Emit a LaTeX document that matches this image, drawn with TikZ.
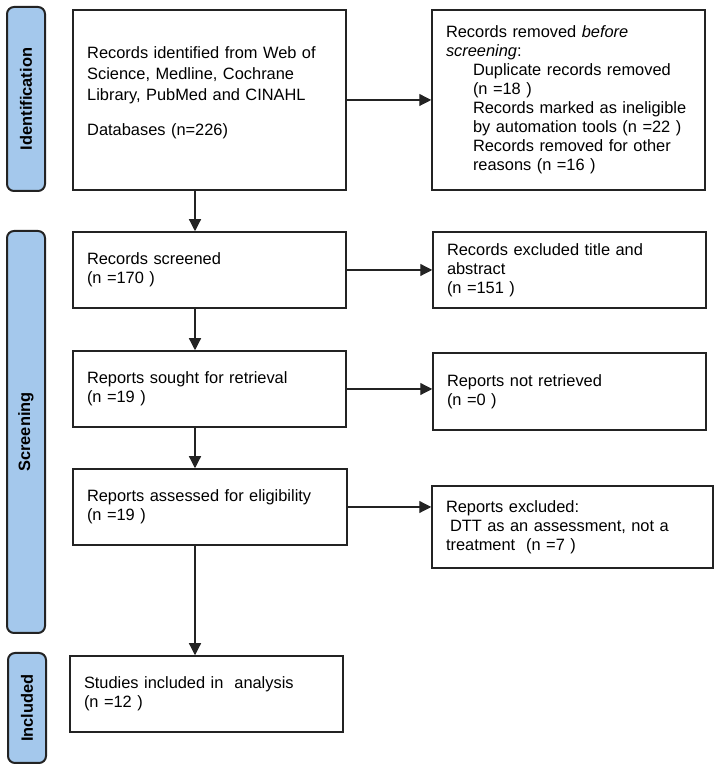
\documentclass[tikz,border=0pt]{standalone}
\usepackage{fontspec}
\setmainfont{Liberation Sans}
\usetikzlibrary{arrows.meta}
\definecolor{bandblue}{RGB}{164,200,236}
\definecolor{edge}{RGB}{35,35,35}
\begin{document}
\begin{tikzpicture}[x=1pt,y=1pt,
  txt/.style={font=\fontsize{16.4}{19}\selectfont},
  box/.style={draw=edge, line width=1.5pt, align=left, inner xsep=14pt, inner ysep=0pt, txt},
  band/.style={draw=edge, line width=2pt, fill=bandblue, rounded corners=7pt, rotate=90,
    minimum height=38pt, inner sep=0pt, font=\fontsize{16.4}{19}\selectfont\bfseries},
  arr/.style={draw=edge, line width=1.2pt, -{Triangle[length=12pt,width=12pt]}}]
\useasboundingbox (0,0) rectangle (714,770);
% phase bands
\node[band, minimum width=184pt] (idb) at (26,671) {Identification};
\node[band, minimum width=402pt] (scb) at (26,338) {Screening};
\node[band, minimum width=110pt] (inb) at (27,62) {Included};
% left column
\node[box, minimum width=273pt, minimum height=180pt] (b1) at (209.5,670) {};
\node[txt, anchor=north west, inner sep=0pt, text width=245pt, align=left,
  font=\fontsize{16.4}{21}\selectfont] (t1) at (87,724)
  {Records identified from Web of\\Science, Medline, Cochrane\\Library, PubMed and CINAHL\\[14pt]Databases (n=226)};
\node[box, text width=245pt, minimum height=76pt] (b2) at (209.5,500) {Records screened\\(n =170 )};
\node[box, text width=245pt, minimum height=76pt] (b3) at (209.5,381) {Reports sought for retrieval\\(n =19 )};
\node[box, text width=246pt, minimum height=76pt] (b4) at (210,263) {Reports assessed for eligibility\\(n =19 )};
\node[box, text width=245pt, minimum height=76pt] (b5) at (206.5,76) {Studies included in\ \ analysis\\(n =12 )};
% right column
\node[box, text width=245pt, minimum height=180pt] (r1) at (568.5,670)
  {Records removed \textit{before}\\\textit{screening}:\\
   \hspace*{27pt}Duplicate records removed\\\hspace*{27pt}(n =18 )\\
   \hspace*{27pt}Records marked as ineligible\\\hspace*{27pt}by automation tools (n =22 )\\
   \hspace*{27pt}Records removed for other\\\hspace*{27pt}reasons (n =16 )};
\node[box, text width=245pt, minimum height=76pt] (r2) at (569.5,500) {Records excluded title and\\abstract\\(n =151 )};
\node[box, text width=245pt, minimum height=77pt] (r3) at (569.5,378.5) {Reports not retrieved\\(n =0 )};
\node[box, text width=253pt, minimum height=82pt] (r4) at (572.5,243)
  {Reports excluded:\\\hspace*{4pt}DTT as an assessment, not a\\treatment\ \ (n =7 )};
% connectors
\coordinate (ax) at (195,0);
\draw[arr] (b1.south -| ax) -- (b2.north -| ax);
\draw[arr] (b2.south -| ax) -- (b3.north -| ax);
\draw[arr] (b3.south -| ax) -- (b4.north -| ax);
\draw[arr] (b4.south -| ax) -- (b5.north -| ax);
\draw[arr] (b1.east) -- (b1.east -| r1.west);
\draw[arr] (b2.east) -- (b2.east -| r2.west);
\draw[arr] (b3.east) -- (b3.east -| r3.west);
\draw[arr] (b4.east) -- (b4.east -| r4.west);
\end{tikzpicture}
\end{document}
